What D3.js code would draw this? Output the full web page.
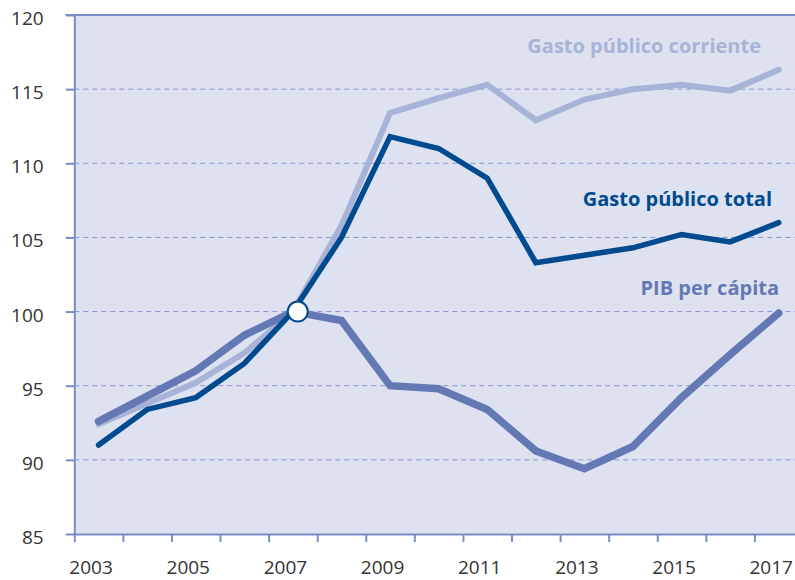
<!DOCTYPE html>
<html>
<head>
<meta charset="utf-8">
<script src="https://cdn.jsdelivr.net/npm/d3@7"></script>
<style>
  html, body { margin: 0; padding: 0; background: #ffffff; }
  svg { display: block; }
</style>
</head>
<body>
<svg id="chart" width="795" height="580"></svg>
<script>
// ---- data ----
const years = [2003, 2004, 2005, 2006, 2007, 2008, 2009, 2010, 2011, 2012, 2013, 2014, 2015, 2016, 2017];
const gastoCorriente = [92.4, 93.8, 95.2, 97.2, 100, 105.8, 113.4, 114.4, 115.3, 112.9, 114.3, 115.0, 115.3, 114.9, 116.3];
const pibPerCapita   = [92.6, 94.3, 96.0, 98.4, 100, 99.4, 95.0, 94.8, 93.4, 90.6, 89.4, 90.9, 94.2, 97.1, 99.9];
const gastoTotal     = [91.0, 93.4, 94.2, 96.5, 100, 105.0, 111.8, 111.0, 109.0, 103.3, 103.8, 104.3, 105.2, 104.7, 106.0];
const yTicks = [85, 90, 95, 100, 105, 110, 115, 120];
const xLabelYears = [2003, 2005, 2007, 2009, 2011, 2013, 2015, 2017];
const seriesNames = ["Gasto público corriente", "PIB per cápita", "Gasto público total"];
const baseYear = 2007.1;   // base-100 marker
const baseValue = 100;

(function () {
// ---- layout ----
const W = 795, H = 580;
const mLeft = 74.3, mTop = 15, mBottom = 534, mRight = 803;
const svg = d3.select("#chart");
const font = "'Open Sans', 'Noto Sans', sans-serif";
const axisColor = "#7a8cc6";
const gridColor = "#8797cd";

const x = d3.scaleLinear().domain([years[0] - 0.5, years[years.length - 1] + 0.5]).range([mLeft, mRight]);
const y = d3.scaleLinear().domain([85, 120]).range([mBottom, mTop]);

// plot background
svg.append("rect")
  .attr("x", mLeft).attr("y", mTop)
  .attr("width", W - mLeft).attr("height", mBottom - mTop)
  .attr("fill", "#dde1f0");

// gridlines
svg.append("g").selectAll("line")
  .data(yTicks.filter(v => v > 85 && v < 120))
  .join("line")
  .attr("x1", mLeft).attr("x2", W)
  .attr("y1", d => y(d)).attr("y2", d => y(d))
  .attr("stroke", gridColor).attr("stroke-width", 1)
  .attr("stroke-dasharray", "5,4");

// top border (120)
svg.append("line")
  .attr("x1", mLeft - 8.6).attr("x2", W)
  .attr("y1", y(120)).attr("y2", y(120))
  .attr("stroke", axisColor).attr("stroke-width", 2);

// y axis
const yAxis = svg.append("g")
  .attr("transform", `translate(${mLeft},0)`)
  .call(d3.axisLeft(y).tickValues(yTicks).tickSize(8.6).tickSizeOuter(0).tickPadding(22));
yAxis.select(".domain").attr("stroke", axisColor).attr("stroke-width", 2);
yAxis.selectAll(".tick line").attr("stroke", axisColor).attr("stroke-width", 2);
yAxis.selectAll(".tick text")
  .attr("font-family", font).attr("font-size", 19).attr("fill", "#333333")
  .attr("dy", "0.5em");

// x axis ticks (category boundaries)
const tickYears = years.map(d => d - 0.5);
const xAxis = svg.append("g")
  .attr("transform", `translate(0,${mBottom})`)
  .call(d3.axisBottom(x).tickValues(tickYears).tickSize(8).tickSizeOuter(0).tickFormat(""));
xAxis.select(".domain").attr("stroke", axisColor).attr("stroke-width", 2);
xAxis.selectAll(".tick line").attr("stroke", axisColor).attr("stroke-width", 2);

// x axis labels
const xLab = svg.append("g")
  .attr("transform", `translate(-8,${mBottom})`)
  .call(d3.axisBottom(x).tickValues(xLabelYears).tickSize(0).tickPadding(26.5).tickFormat(d3.format("d")));
xLab.select(".domain").remove();
xLab.selectAll(".tick text")
  .attr("font-family", font).attr("font-size", 19).attr("fill", "#333333");

// lines
const line = d3.line().x((d, i) => x(years[i])).y(d => y(d));
const series = [
  { name: seriesNames[0], values: gastoCorriente, color: "#a8b4d7", width: 6 },
  { name: seriesNames[1], values: pibPerCapita,   color: "#6479b4", width: 7.5 },
  { name: seriesNames[2], values: gastoTotal,     color: "#004a8f", width: 5.5 }
];
svg.append("g").selectAll("path")
  .data(series)
  .join("path")
  .attr("d", d => line(d.values))
  .attr("fill", "none")
  .attr("stroke", d => d.color)
  .attr("stroke-width", d => d.width)
  .attr("stroke-linecap", "round")
  .attr("stroke-linejoin", "miter");

// base marker
svg.append("circle")
  .attr("cx", x(baseYear)).attr("cy", y(baseValue)).attr("r", 10)
  .attr("fill", "#ffffff").attr("stroke", "#004a8f").attr("stroke-width", 2);

// series labels
const labelPos = [
  { anchorX: 761, baselineY: 53 },
  { anchorX: 779, baselineY: 295 },
  { anchorX: 772, baselineY: 206 }
];
svg.append("g").selectAll("text")
  .data(series)
  .join("text")
  .attr("x", (d, i) => labelPos[i].anchorX)
  .attr("y", (d, i) => labelPos[i].baselineY)
  .attr("text-anchor", "end")
  .attr("font-family", font).attr("font-weight", "bold").attr("font-size", 20)
  .attr("fill", d => d.color)
  .text(d => d.name);
})();
</script>
</body>
</html>
